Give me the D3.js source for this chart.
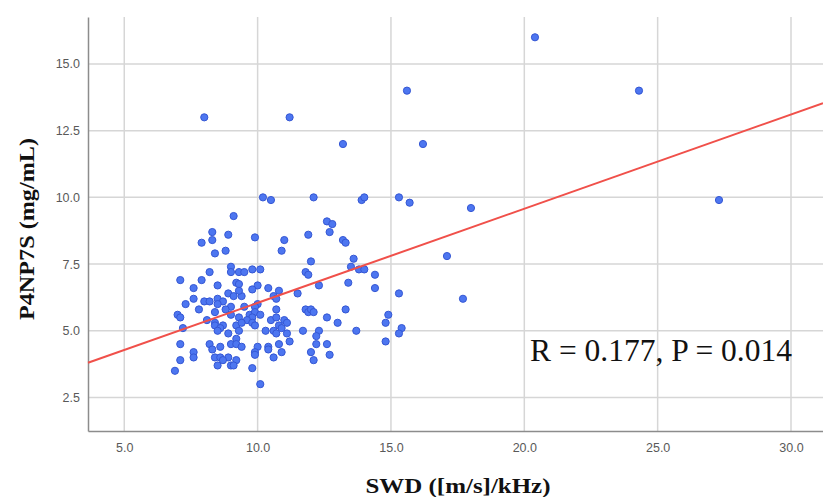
<!DOCTYPE html>
<html>
<head>
<meta charset="utf-8">
<script src="https://cdn.jsdelivr.net/npm/d3@7"></script>
<style>
  html, body { margin: 0; padding: 0; background: #fff; }
</style>
</head>
<body>
<div id="chart"></div>
<script>
// SWD vs P4NP7S
const swd = [
  20.4, 15.6, 24.3, 8.0, 11.2, 13.2, 16.2, 13.9, 14.0, 15.3, 15.7, 18.0, 27.3, 13.2, 13.3,
  10.2, 10.5, 12.1, 9.1, 12.6, 12.8, 12.7,
  8.3, 8.3, 7.9, 8.9, 9.9, 11.9, 11.0,
  8.4, 8.8, 10.9, 12.0,
  9.0, 8.2, 9.0, 9.3, 9.5, 9.8, 10.1, 11.8, 11.9,
  7.1, 7.9, 8.5, 9.2, 9.3, 10.0, 9.8, 10.4, 10.8, 12.3, 7.6,
  8.9, 9.1, 9.4, 9.3, 10.6, 10.7, 11.5, 7.6,
  8.0, 8.2, 8.5, 8.7, 8.5, 7.3,
  10.0, 9.9, 9.5, 9.0, 8.8, 7.8, 10.7, 11.8, 11.9, 12.0, 12.1,
  8.4, 9.0, 9.3, 9.7, 9.9, 10.1, 9.8, 9.6, 10.5, 10.7, 11.0, 11.1, 12.6, 13.0,
  7.0, 7.1, 8.1, 7.2,
  8.4, 8.4, 8.7, 8.6, 8.5, 9.2, 9.4, 9.8, 9.9, 9.3, 10.3, 10.6, 10.8, 10.7, 10.9, 11.1, 11.7, 12.3, 12.2, 8.9, 9.2, 11.2,
  7.1, 8.2, 8.6, 8.3, 9.0, 9.2, 9.4, 10.0, 10.4, 10.4, 10.8, 10.9, 12.2, 12.6, 12.0, 12.7,
  7.6, 7.6, 8.4, 8.6, 8.9, 8.7, 9.2, 9.9, 9.9, 10.6, 7.1, 8.5, 9.0, 9.1, 12.1, 6.9, 9.8, 10.1,
  17.1, 13.6, 13.5, 13.8, 14.0, 14.4, 13.4, 14.4, 15.3, 17.7, 13.3, 14.9, 14.8, 13.7, 15.4, 15.3, 14.8
];
const p4np7s = [
  16.0, 14.0, 14.0, 13.0, 13.0, 12.0, 12.0, 9.9, 10.0, 10.0, 9.8, 9.6, 9.9, 8.4, 8.3,
  10.0, 9.9, 10.0, 9.3, 9.1, 9.0, 8.7,
  8.7, 8.4, 8.3, 8.6, 8.5, 8.6, 8.4,
  7.9, 8.0, 8.0, 7.6,
  7.4, 7.2, 7.2, 7.2, 7.2, 7.3, 7.3, 7.2, 7.1,
  6.9, 6.9, 6.7, 6.8, 6.75, 6.7, 6.55, 6.6, 6.5, 6.7, 6.6,
  6.4, 6.3, 6.3, 6.5, 6.3, 6.2, 6.4, 6.2,
  6.1, 6.1, 6.2, 6.1, 6.0, 6.0,
  6.0, 5.9, 5.9, 5.9, 5.8, 5.8, 5.8, 5.8, 5.7, 5.8, 5.7,
  5.7, 5.6, 5.5, 5.6, 5.7, 5.6, 5.5, 5.4, 5.4, 5.5, 5.4, 5.3, 5.5, 5.3,
  5.6, 5.5, 5.4, 5.1,
  5.3, 5.2, 5.2, 5.1, 5.0, 5.2, 5.3, 5.3, 5.2, 5.0, 5.0, 5.0, 5.2, 4.9, 5.1, 4.9, 5.0, 5.0, 4.8, 4.9, 4.7, 4.6,
  4.5, 4.5, 4.4, 4.3, 4.5, 4.5, 4.4, 4.4, 4.4, 4.3, 4.5, 4.2, 4.5, 4.5, 4.2, 4.1,
  4.2, 4.0, 4.0, 4.0, 4.0, 3.9, 3.9, 4.2, 4.1, 4.0, 3.9, 3.7, 3.7, 3.7, 3.9, 3.5, 3.6, 3.0,
  7.8, 7.7, 7.4, 7.3, 7.3, 7.1, 6.8, 6.6, 6.4, 6.2, 5.8, 5.6, 5.3, 5.0, 5.1, 4.9, 4.6
];

// fit line as drawn in the figure
const fitIntercept = 2.515
, fitSlope = 0.353;

const xTicks = [5, 10, 15, 20, 25, 30]
, yTicks = [2.5, 5, 7.5, 10, 12.5, 15]
, xDomain = [3.64, 31.2]
, yDomain = [1.244, 16.76];

const xLabel = "SWD ([m/s]/kHz)"
, yLabel = "P4NP7S (mg/mL)"
, statText = "R = 0.177, P = 0.014";

const width = 823
, height = 497
, plotLeft = 88
, plotRight = 823
, plotTop = 17
, plotBottom = 431
, gridColor = "#d6d6d6"
, axisColor = "#8c8c8c"
, tickColor = "#595959"
, serif = "'Liberation Serif', 'DejaVu Serif', serif";

var svg = d3.select("#chart")
  .append("svg")
  .attr("width", width)
  .attr("height", height);

var x = d3.scaleLinear().domain(xDomain).range([plotLeft, plotRight]);
var y = d3.scaleLinear().domain(yDomain).range([plotBottom, plotTop]);

// grid
svg.append("g").selectAll("line")
  .data(xTicks)
  .enter().append("line")
  .attr("x1", d => x(d)).attr("x2", d => x(d))
  .attr("y1", plotTop).attr("y2", plotBottom)
  .style("stroke", gridColor)
  .style("stroke-width", 1.5);

svg.append("g").selectAll("line")
  .data(yTicks)
  .enter().append("line")
  .attr("x1", plotLeft).attr("x2", plotRight)
  .attr("y1", d => y(d)).attr("y2", d => y(d))
  .style("stroke", gridColor)
  .style("stroke-width", 1.5);

// axes
var xAxis = svg.append("g")
  .attr("transform", `translate(0,${plotBottom})`)
  .call(d3.axisBottom(x).tickValues(xTicks).tickFormat(d3.format(".1f")).tickSize(0).tickPadding(12));
var yAxis = svg.append("g")
  .attr("transform", `translate(${plotLeft},0)`)
  .call(d3.axisLeft(y).tickValues(yTicks).tickFormat(d3.format(".1f")).tickSize(0).tickPadding(8));

[xAxis, yAxis].forEach(function(a) {
  a.select(".domain").style("stroke", axisColor).style("stroke-width", 1.5);
  a.selectAll("text")
    .style("font-family", "'Liberation Sans', Arial, sans-serif")
    .style("font-size", "12.5px")
    .style("fill", tickColor);
});

// points
svg.append("g").selectAll("circle")
  .data(d3.range(swd.length))
  .enter().append("circle")
  .attr("cx", i => x(swd[i]))
  .attr("cy", i => y(p4np7s[i]))
  .attr("r", 3.6)
  .style("fill", "#4d76f0")
  .style("stroke", "#3557d4")
  .style("stroke-width", 1);

// regression line
svg.append("line")
  .attr("x1", x(xDomain[0]))
  .attr("y1", y(fitIntercept + fitSlope * xDomain[0]))
  .attr("x2", x(xDomain[1]))
  .attr("y2", y(fitIntercept + fitSlope * xDomain[1]))
  .style("stroke", "#f0504a")
  .style("stroke-width", 2);

// stat label
svg.append("text")
  .attr("x", 530)
  .attr("y", 361)
  .attr("textLength", 262)
  .attr("lengthAdjust", "spacingAndGlyphs")
  .text(statText)
  .style("font-family", serif)
  .style("font-size", "31px")
  .style("fill", "#111");

// axis titles
svg.append("text")
  .attr("x", 458)
  .attr("y", 493)
  .attr("text-anchor", "middle")
  .attr("textLength", 185)
  .attr("lengthAdjust", "spacingAndGlyphs")
  .text(xLabel)
  .style("font-family", serif)
  .style("font-weight", "bold")
  .style("font-size", "21px")
  .style("fill", "#111");

svg.append("text")
  .attr("transform", "translate(34,229) rotate(-90)")
  .attr("text-anchor", "middle")
  .attr("textLength", 182)
  .attr("lengthAdjust", "spacingAndGlyphs")
  .text(yLabel)
  .style("font-family", serif)
  .style("font-weight", "bold")
  .style("font-size", "21px")
  .style("fill", "#111");
</script>
</body>
</html>
